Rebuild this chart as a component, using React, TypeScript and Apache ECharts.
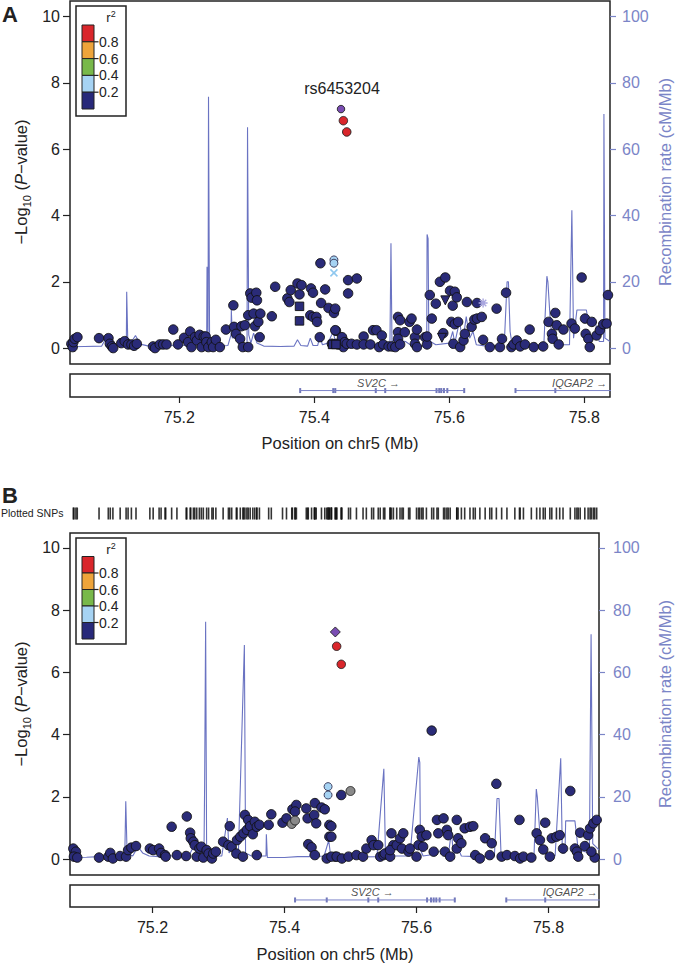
import React, { useEffect, useRef } from "react";
import * as echarts from "echarts";

// ---------- tick labels ----------
const pTicks = [0, 2, 4, 6, 8, 10];
const recTicks = [0, 20, 40, 60, 80, 100];
const posTicks = [75.2, 75.4, 75.6, 75.8];
const ldLabels = ["0.8", "0.6", "0.4", "0.2"];
const ldColors = ["#d9262b", "#eea43a", "#78b84a", "#a6d3f3", "#28297a"];

// ---------- Panel A SNPs: [position Mb, -log10 P] ----------
const snpA_navy: [number, number][] = [
  [75.040,0.13],[75.042,0.03],[75.043,0.18],[75.045,0.28],[75.049,0.33],
  [75.081,0.30],[75.095,0.30],[75.097,0.13],[75.100,0.05],[75.102,0.00],
  [75.114,0.15],[75.119,0.21],[75.124,0.11],[75.129,0.11],[75.133,0.07],[75.137,0.13],
  [75.161,0.05],[75.164,0.00],[75.171,0.11],[75.176,0.11],[75.181,0.11],[75.191,0.56],[75.198,0.11],
  [75.207,0.31],[75.213,0.18],[75.216,0.50],[75.218,0.03],[75.223,0.33],[75.226,0.23],[75.230,0.40],
  [75.233,0.03],[75.236,0.35],[75.239,0.35],[75.240,0.18],[75.243,0.03],[75.248,0.18],[75.250,0.03],
  [75.254,0.25],[75.260,0.03],
  [75.269,0.56],[75.280,1.29],[75.281,0.64],[75.284,0.43],[75.290,0.28],[75.292,0.66],[75.294,0.03],
  [75.297,0.69],[75.302,0.99],[75.302,0.03],[75.305,1.65],[75.307,1.52],[75.310,1.04],[75.312,0.66],
  [75.314,1.67],[75.315,1.44],[75.317,0.79],[75.319,0.33],[75.320,1.04],
  [75.337,0.96],[75.342,1.85],[75.360,1.50],[75.363,1.39],[75.365,1.75],[75.375,1.95],[75.378,1.62],
  [75.381,1.90],[75.394,0.99],[75.395,1.80],[75.398,1.67],[75.398,0.94],[75.403,0.94],[75.404,0.79],
  [75.408,0.33],[75.409,2.56],[75.410,1.36],[75.416,1.77],[75.421,1.21],[75.429,1.06],[75.432,0.52],
  [75.435,0.11],[75.431,1.19],[75.431,0.54],[75.426,0.13],[75.433,0.13],[75.441,0.33],[75.443,0.03],
  [75.445,0.18],[75.448,0.13],[75.450,2.05],[75.450,1.65],[75.455,0.13],[75.463,2.10],[75.463,0.11],
  [75.473,0.35],[75.473,0.11],[75.483,0.11],[75.487,0.54],[75.492,0.54],[75.496,0.03],[75.500,0.38],
  [75.502,0.11],[75.510,0.05],[75.515,0.05],[75.520,0.03],
  [75.524,0.94],[75.527,0.84],[75.524,0.48],[75.524,0.28],[75.527,0.11],[75.534,0.48],[75.541,0.79],
  [75.544,0.89],[75.549,0.33],[75.552,0.56],[75.549,0.13],[75.552,0.03],[75.564,0.33],[75.567,0.11],
  [75.567,0.35],[75.571,1.60],[75.574,0.89],[75.580,1.34],[75.586,2.00],[75.591,0.45],[75.594,2.13],
  [75.601,1.73],[75.603,0.79],[75.605,1.28],[75.606,0.13],[75.608,1.70],[75.608,0.72],[75.611,1.53],
  [75.613,0.79],[75.616,0.03],[75.621,0.23],[75.623,0.43],[75.626,1.39],[75.633,0.64],[75.637,0.86],
  [75.641,0.89],[75.641,1.36],[75.648,0.94],[75.650,0.25],[75.660,0.03],[75.670,1.19],[75.675,0.03],
  [75.678,0.28],[75.684,1.67],[75.692,0.03],[75.695,0.11],[75.700,0.23],[75.705,0.05],[75.712,0.11],
  [75.719,0.56],[75.725,0.03],[75.739,0.05],[75.747,0.79],[75.752,0.43],[75.753,0.28],[75.757,1.06],
  [75.759,0.69],[75.762,0.11],[75.769,0.56],[75.781,0.74],[75.786,0.59],[75.796,2.13],[75.801,0.89],
  [75.802,0.43],[75.806,0.28],[75.808,0.03],[75.811,0.79],[75.818,0.38],[75.823,0.54],[75.828,0.72],
  [75.833,0.74],[75.835,1.60],
];
const snpA_square: [number, number][] = [[75.378,1.26],[75.378,0.82],[75.427,0.11],[75.432,0.11]];
const snpA_triangle: [number, number][] = [[75.594,1.44],[75.589,0.31]];
const snpA_lightblue: [number, number][] = [[75.429,2.66],[75.429,2.56]];
const snpA_lightblueX: [number, number][] = [[75.429,2.27]];
const snpA_star: [number, number][] = [[75.650,1.36]];
const snpA_red: [number, number][] = [[75.443,6.86],[75.448,6.52]];
const snpA_lead: [number, number][] = [[75.4395,7.21]];
const leadNameA = "rs6453204";

// ---------- Panel A recombination rate [Mb, cM/Mb] ----------
const recombA: [number, number][] = [
  [75.038,0.4],[75.06,0.5],[75.085,0.6],[75.09,2.5],[75.095,1.2],[75.105,0.8],[75.118,0.8],[75.1215,3],
  [75.122,17],[75.1228,17],[75.1235,3],[75.128,1.5],[75.135,3.8],[75.142,1.2],[75.155,0.6],[75.175,0.6],
  [75.19,0.8],[75.198,2],[75.205,0.8],[75.215,1],[75.222,3.5],[75.227,4.5],[75.232,1.5],[75.2405,1.5],
  [75.241,24.5],[75.2418,24.5],[75.2425,3],[75.2432,75.8],[75.2442,75.8],[75.2448,1.5],[75.255,0.6],
  [75.272,0.8],[75.2765,4],[75.277,11.5],[75.2778,11.5],[75.2785,3],[75.283,4.5],[75.288,1],[75.3003,1.5],
  [75.301,66.6],[75.302,66.6],[75.3028,4],[75.306,1.5],[75.31,4.5],[75.315,1.5],[75.325,0.6],[75.35,0.5],
  [75.37,0.6],[75.375,2.5],[75.38,0.8],[75.39,0.6],[75.394,3],[75.398,0.8],[75.405,0.8],[75.408,3.5],
  [75.412,1],[75.42,1.5],[75.428,5],[75.432,1],[75.45,0.5],[75.48,0.5],[75.5,0.8],[75.512,1.5],
  [75.5135,31.6],[75.5142,31.6],[75.515,2],[75.52,2.5],[75.535,2],[75.545,0.6],[75.56,0.6],[75.5665,2],
  [75.567,34.3],[75.5685,33],[75.5695,5],[75.572,2],[75.58,1],[75.6,1.5],[75.605,5],[75.608,1.5],
  [75.615,8],[75.62,2],[75.625,9.5],[75.63,3],[75.635,5],[75.64,1],[75.655,0.6],[75.675,0.8],[75.682,4],
  [75.6855,20],[75.6875,20],[75.69,5],[75.693,1],[75.71,0.8],[75.74,1],[75.7445,21.7],[75.746,20],
  [75.749,10],[75.752,3],[75.76,1],[75.778,1],[75.7815,41.6],[75.7825,41.6],[75.784,3],[75.789,11.5],
  [75.803,11.5],[75.805,9],[75.815,9],[75.822,2],[75.8285,2],[75.829,70.6],[75.8298,70.6],[75.8305,3],
  [75.838,2],
];

// ---------- Panel A genes: [name, start, end, label position] ----------
const genesA: [string, number, number, number][] = [
  ["SV2C", 75.379, 75.622, 75.495],
  ["IQGAP2", 75.698, 75.95, 75.793],
];
const exonsA = [75.379, 75.428, 75.431, 75.491, 75.505, 75.581, 75.585, 75.588, 75.592, 75.597, 75.622, 75.698, 75.757];

// ---------- Panel B SNPs ----------
const snpB_navy: [number, number][] = [
  [75.080,0.34],[75.084,0.24],[75.081,0.08],[75.086,0.05],[75.119,0.05],[75.133,0.08],[75.136,0.20],
  [75.140,0.02],[75.151,0.10],[75.160,0.08],[75.163,0.29],[75.168,0.37],[75.175,0.42],[75.196,0.34],
  [75.201,0.29],[75.210,0.34],[75.213,0.20],[75.219,0.13],[75.220,0.08],[75.229,1.04],[75.237,0.13],
  [75.252,1.37],[75.251,0.10],[75.257,0.85],[75.258,0.67],[75.262,0.56],[75.264,0.45],[75.267,0.08],
  [75.271,0.34],[75.274,0.40],[75.277,0.05],[75.282,0.29],[75.285,0.18],[75.290,0.02],[75.292,0.18],
  [75.296,0.24],[75.307,0.56],[75.317,1.06],[75.315,0.45],[75.320,0.40],[75.327,0.18],[75.328,0.61],
  [75.333,0.72],[75.338,0.83],[75.337,0.08],[75.340,1.42],[75.343,0.94],[75.345,1.26],[75.348,1.06],
  [75.352,0.80],[75.355,1.20],[75.358,1.04],[75.358,0.13],[75.362,1.10],[75.376,1.10],[75.380,1.44],
  [75.397,1.17],[75.403,1.31],[75.412,1.60],[75.418,1.74],[75.416,1.53],[75.433,1.63],[75.435,1.31],
  [75.436,0.48],[75.441,0.38],[75.446,1.80],[75.445,1.42],[75.448,1.15],[75.446,0.13],[75.456,1.66],
  [75.461,1.60],[75.468,1.10],[75.468,0.72],[75.464,0.02],[75.477,0.08],[75.486,2.06],
  [75.471,1.06],[75.471,0.72],[75.471,0.08],[75.479,0.08],[75.487,0.02],[75.497,0.08],[75.509,0.13],
  [75.519,0.08],[75.524,0.34],[75.532,0.61],[75.535,0.45],[75.542,0.45],[75.545,0.08],[75.550,0.13],
  [75.552,0.18],[75.560,0.08],[75.562,0.83],[75.565,0.45],[75.560,0.29],[75.570,0.45],[75.575,0.67],
  [75.580,0.83],[75.578,0.34],[75.588,0.24],[75.590,0.34],[75.600,0.08],[75.603,0.45],[75.605,0.94],
  [75.608,0.72],[75.610,0.40],[75.615,0.77],[75.623,4.13],[75.626,0.24],[75.631,1.26],[75.641,1.31],
  [75.633,0.83],[75.646,0.94],[75.648,0.77],[75.643,0.24],[75.651,0.08],[75.661,1.26],[75.663,0.67],
  [75.661,0.34],[75.668,0.51],[75.673,0.99],[75.681,1.04],[75.686,1.06],[75.689,0.13],[75.696,0.02],
  [75.704,0.67],[75.714,0.51],[75.711,0.13],[75.721,2.42],[75.729,0.08],[75.737,0.13],[75.749,0.10],
  [75.757,0.02],[75.756,1.26],[75.762,0.08],[75.774,0.05],[75.782,0.83],[75.787,0.61],[75.792,0.31],
  [75.795,1.17],[75.802,0.08],[75.805,0.67],[75.812,0.72],[75.817,0.77],[75.822,0.34],[75.833,2.19],
  [75.840,0.34],[75.843,0.24],[75.845,0.08],[75.848,0.85],[75.855,0.42],[75.860,0.77],[75.863,0.99],
  [75.868,1.15],[75.870,0.05],[75.865,0.24],[75.873,1.26],
];
const snpB_grey: [number, number][] = [[75.411,1.13],[75.416,1.24],[75.500,2.19]];
const snpB_lightblue: [number, number][] = [[75.466,2.33],[75.466,2.06]];
const snpB_red: [number, number][] = [[75.479,6.84],[75.486,6.26]];
const snpB_lead: [number, number][] = [[75.477,7.30]];

// ---------- Panel B recombination rate ----------
const recombB: [number, number][] = [
  [75.075,0.5],[75.1,0.6],[75.12,0.8],[75.135,1],[75.158,1],[75.1595,18.6],[75.1605,18.6],[75.1615,2],
  [75.17,1],[75.178,4],[75.185,2],[75.195,1],[75.21,0.8],[75.222,1.5],[75.235,0.6],[75.255,1],[75.262,4],
  [75.27,3],[75.278,2],[75.279,24.3],[75.2795,24.3],[75.2805,76.3],[75.2815,76.3],[75.282,3],[75.29,1],
  [75.305,1],[75.3135,13.2],[75.3145,13.2],[75.316,2],[75.325,4],[75.33,1],[75.3392,68.8],[75.3402,68.8],
  [75.341,2],[75.35,1],[75.372,1],[75.3725,8],[75.3735,8],[75.374,0.5],[75.4,0.5],[75.42,0.8],[75.438,0.8],
  [75.44,3],[75.443,0.8],[75.46,1],[75.467,6],[75.47,1],[75.5,0.6],[75.54,0.8],[75.5505,29],[75.5515,29],
  [75.553,1],[75.56,2],[75.565,1],[75.59,1],[75.6035,32.8],[75.605,31],[75.606,3],[75.61,1],[75.625,1.5],
  [75.64,3],[75.648,1],[75.653,9],[75.656,1],[75.662,4],[75.668,1],[75.69,0.8],[75.718,1],[75.722,19.5],
  [75.725,19.5],[75.728,2],[75.74,1],[75.778,1],[75.7815,22.5],[75.783,20],[75.787,8],[75.79,2],[75.81,1],
  [75.8185,32.4],[75.8195,32.4],[75.821,2],[75.825,2],[75.826,12.3],[75.84,12.3],[75.845,3],[75.862,2],
  [75.8645,72.3],[75.8655,72.3],[75.867,5],[75.8765,3],
];

const genesB: [string, number, number, number][] = [
  ["SV2C", 75.416, 75.658, 75.533],
  ["IQGAP2", 75.736, 75.95, 75.833],
];
const exonsB = [75.416, 75.464, 75.527, 75.542, 75.616, 75.622, 75.626, 75.630, 75.635, 75.658, 75.736, 75.795];

// ---------- styling ----------
const FONT = '"Liberation Sans", Arial, Helvetica, sans-serif';
const INK = "#222";
const REC = "#6a73c2";
const BLUE_TXT = "#7b85c7";
const GENE = "#7b83c8";
const NAVY = "#2a2b78";
const PURPLE = "#7a4db3";
const GREY = "#8a8a8a";
const X_PATH = "path://M0,0L10,10M10,0L0,10";
const STAR_PATH = "path://M5,0L5,10M0,5L10,5M1.5,1.5L8.5,8.5M8.5,1.5L1.5,8.5";

function buildOption() {
  const grids = [
    { left: 70, top: 1, width: 540, height: 363 },
    { left: 70, top: 374, width: 540, height: 23 },
    { left: 70, top: 507, width: 529, height: 13 },
    { left: 70, top: 533, width: 529, height: 342 },
    { left: 70, top: 885, width: 529, height: 22 },
  ].map((g, i) => ({
    ...g,
    show: i !== 2,
    borderColor: INK,
    borderWidth: 1.5,
    backgroundColor: "transparent",
    outerBoundsMode: "none",
  }));

  const rangeA: [number, number] = [75.038, 75.838];
  const rangeB: [number, number] = [75.075, 75.8765];

  const hiddenX = (gi: number, r: [number, number]) => ({
    type: "value", gridIndex: gi, min: r[0], max: r[1], show: false, splitLine: { show: false },
  });
  const shownX = (gi: number, r: [number, number]) => ({
    type: "value", gridIndex: gi, min: r[0], max: r[1], position: "bottom",
    axisLine: { show: false }, splitLine: { show: false },
    axisTick: { show: true, length: 6, customValues: posTicks, lineStyle: { color: INK, width: 1.2 } },
    axisLabel: { show: true, margin: 12, customValues: posTicks, fontSize: 16, fontFamily: FONT, color: INK,
      formatter: (v: number) => v.toFixed(1) },
  });
  const leftY = (gi: number, r: [number, number]) => ({
    type: "value", gridIndex: gi, min: r[0], max: r[1], position: "left",
    axisLine: { show: false }, splitLine: { show: false },
    axisTick: { show: true, length: 7, customValues: pTicks, lineStyle: { color: INK, width: 1.2 } },
    axisLabel: { show: true, margin: 10, customValues: pTicks, fontSize: 16, fontFamily: FONT, color: INK },
  });
  const rightY = (gi: number, r: [number, number], margin: number) => ({
    type: "value", gridIndex: gi, min: r[0], max: r[1], position: "right",
    axisLine: { show: false }, splitLine: { show: false },
    axisTick: { show: true, length: 6, customValues: recTicks, lineStyle: { color: BLUE_TXT, width: 1.2 } },
    axisLabel: { show: true, margin, customValues: recTicks, fontSize: 16, fontFamily: FONT, color: BLUE_TXT },
  });
  const hiddenY = (gi: number) => ({ type: "value", gridIndex: gi, min: 0, max: 1, show: false, splitLine: { show: false } });

  const xAxis = [hiddenX(0, rangeA), shownX(1, rangeA), hiddenX(2, rangeB), hiddenX(3, rangeB), shownX(4, rangeB)];
  const yAxis = [
    leftY(0, [-0.48, 10.47]),
    rightY(0, [-4.8, 104.7], 12),
    hiddenY(1),
    hiddenY(2),
    leftY(3, [-0.51, 10.48]),
    rightY(3, [-5.1, 104.8], 14),
    hiddenY(4),
  ];

  const sc = (data: [number, number][], xi: number, yi: number, symbol: string, size: number, fill: string, border: string, bw: number, extra: any = {}) => ({
    type: "scatter", xAxisIndex: xi, yAxisIndex: yi, data, symbol, symbolSize: size, z: 3, silent: true,
    itemStyle: { color: fill, borderColor: border, borderWidth: bw, opacity: 1 },
    ...extra,
  });
  const recLine = (data: [number, number][], xi: number, yi: number) => ({
    type: "line", xAxisIndex: xi, yAxisIndex: yi, data, showSymbol: false, symbol: "none", z: 1, silent: true,
    lineStyle: { color: REC, width: 1.1 },
  });
  const geneSeries = (genes: [string, number, number, number][], exons: number[], xi: number, yi: number, yLine: number, yLabel: number) => {
    const out: any[] = [];
    genes.forEach((g) => {
      out.push({
        type: "line", xAxisIndex: xi, yAxisIndex: yi, data: [[g[1], yLine], [g[2], yLine]], symbol: "none", silent: true,
        lineStyle: { color: GENE, width: 1 },
      });
    });
    out.push({
      type: "scatter", xAxisIndex: xi, yAxisIndex: yi, data: exons.map((e) => [e, yLine]), symbol: "rect",
      symbolSize: [2, 5], silent: true, itemStyle: { color: "#4d55a8" },
    });
    out.push({
      type: "scatter", xAxisIndex: xi, yAxisIndex: yi, symbolSize: 0, silent: true,
      data: genes.map((g) => ({ value: [g[3], yLabel], name: g[0] + " \u2192" })),
      label: { show: true, position: "inside", formatter: (p: any) => p.name, fontSize: 11, fontStyle: "italic",
        fontFamily: FONT, color: INK },
    });
    return out;
  };

  const allB = [...snpB_navy, ...snpB_grey, ...snpB_lightblue, ...snpB_red, ...snpB_lead];

  const series: any[] = [
    // Panel A
    recLine(recombA, 0, 1),
    sc(snpA_navy, 0, 0, "circle", 9.5, NAVY, "#111", 0.9),
    sc(snpA_square, 0, 0, "rect", 8.5, NAVY, "#111", 0.9),
    sc(snpA_triangle, 0, 0, "triangle", 9, NAVY, "#111", 0.9, { symbolRotate: 180 }),
    sc(snpA_lightblueX, 0, 0, X_PATH, 7, "transparent", "#8fc8ef", 1.6),
    sc(snpA_star, 0, 0, STAR_PATH, 9, "transparent", "#a9a6df", 1.4),
    sc(snpA_lightblue, 0, 0, "circle", 8, ldColors[3], "#335", 0.9),
    sc(snpA_red, 0, 0, "circle", 8.5, ldColors[0], "#222", 0.9),
    sc(snpA_lead, 0, 0, "circle", 7.5, PURPLE, "#222", 0.9),
    ...geneSeries(genesA, exonsA, 1, 2, 0.28, 0.63),
    // Panel B rug
    {
      type: "scatter", xAxisIndex: 2, yAxisIndex: 3, data: allB.map((d) => [d[0], 0.5]), symbol: "rect",
      symbolSize: [1.6, 12], silent: true, itemStyle: { color: "#111", opacity: 0.85 },
    },
    // Panel B
    recLine(recombB, 3, 5),
    sc(snpB_navy, 3, 4, "circle", 9.5, NAVY, "#111", 0.9),
    sc(snpB_grey, 3, 4, "circle", 9, GREY, "#222", 0.9),
    sc(snpB_lightblue, 3, 4, "circle", 8, ldColors[3], "#335", 0.9),
    sc(snpB_red, 3, 4, "circle", 8.5, ldColors[0], "#222", 0.9),
    sc(snpB_lead, 3, 4, "diamond", 10, PURPLE, "#222", 0.9),
    ...geneSeries(genesB, exonsB, 4, 6, 0.32, 0.66),
  ];

  const txt = (x: number, y: number, text: string, size: number, opts: any = {}, el: any = {}) => ({
    type: "text", x, y, z: 100, silent: true, ...el,
    style: {
      text, fontSize: size, fontFamily: FONT, fill: INK,
      textAlign: "center", textVerticalAlign: "middle", align: "center", verticalAlign: "middle",
      ...opts,
    },
  });

  const yTitle = (x: number, y: number) =>
    txt(x, y, "\u2212Log{sub|10} ({it|P}\u2212value)", 16.5, {
      lineHeight: 22,
      rich: {
        sub: { fontSize: 11, fontFamily: FONT, fill: INK, verticalAlign: "bottom", lineHeight: 13 },
        it: { fontSize: 16.5, fontFamily: FONT, fill: INK, fontStyle: "italic", lineHeight: 22 },
      },
    }, { rotation: Math.PI / 2 });

  const legend = (x: number, y: number, h: number, blockTop: number, blockH: number) => ({
    type: "group", x, y, z: 100, silent: true,
    children: [
      { type: "rect", shape: { x: 0, y: 0, width: 50, height: h }, style: { fill: "#fff", stroke: INK, lineWidth: 1.5 } },
      ...ldColors.map((c, i) => ({
        type: "rect", shape: { x: 6, y: blockTop + i * blockH, width: 12, height: blockH },
        style: { fill: c, stroke: INK, lineWidth: 1 },
      })),
      ...ldLabels.map((_, i) => ({
        type: "line", shape: { x1: 18, y1: blockTop + (i + 1) * blockH, x2: 22.5, y2: blockTop + (i + 1) * blockH },
        style: { stroke: INK, lineWidth: 1.2 },
      })),
      ...ldLabels.map((t, i) => ({
        type: "text", x: 23, y: blockTop + (i + 1) * blockH,
        style: { text: t, fontSize: 14, fontFamily: FONT, fill: INK, textAlign: "left", align: "left",
          textVerticalAlign: "middle", verticalAlign: "middle" },
      })),
      {
        type: "text", x: 35, y: 11,
        style: {
          text: "r{sup|2}", fontSize: 13, fontFamily: FONT, fill: INK, lineHeight: 16,
          textAlign: "center", align: "center", textVerticalAlign: "middle", verticalAlign: "middle",
          rich: { sup: { fontSize: 9, fontFamily: FONT, fill: INK, verticalAlign: "top", lineHeight: 9 } },
        },
      },
    ],
  });

  const graphic = [
    txt(2, 14, "A", 22, { fontWeight: "bold", textAlign: "left", align: "left" }),
    txt(2, 495, "B", 22, { fontWeight: "bold", textAlign: "left", align: "left" }),
    txt(342, 88, leadNameA, 16),
    legend(76, 6, 110, 19, 16.8),
    legend(76, 538, 106, 18.5, 16.5),
    yTitle(21, 182),
    yTitle(21, 704),
    txt(665, 182, "Recombination rate (cM/Mb)", 16.5, { fill: BLUE_TXT }, { rotation: Math.PI / 2 }),
    txt(665, 704, "Recombination rate (cM/Mb)", 16.5, { fill: BLUE_TXT }, { rotation: Math.PI / 2 }),
    txt(340, 443, "Position on chr5 (Mb)", 16.5),
    txt(335, 954, "Position on chr5 (Mb)", 16.5),
    txt(1, 513, "Plotted SNPs", 10.5, { textAlign: "left", align: "left" }),
  ];

  return {
    animation: false,
    backgroundColor: "#fff",
    textStyle: { fontFamily: FONT },
    grid: grids,
    xAxis,
    yAxis,
    series,
    graphic,
  };
}

export default function App() {
  const ref = useRef<HTMLDivElement>(null);
  useEffect(() => {
    if (!ref.current) return;
    const chart = echarts.init(ref.current, undefined, { renderer: "svg" });
    chart.setOption(buildOption() as any);
    return () => chart.dispose();
  }, []);
  return (
    <div
      ref={ref}
      style={{ position: "absolute", left: 0, top: 0, width: 675, height: 963, background: "#fff" }}
    />
  );
}
